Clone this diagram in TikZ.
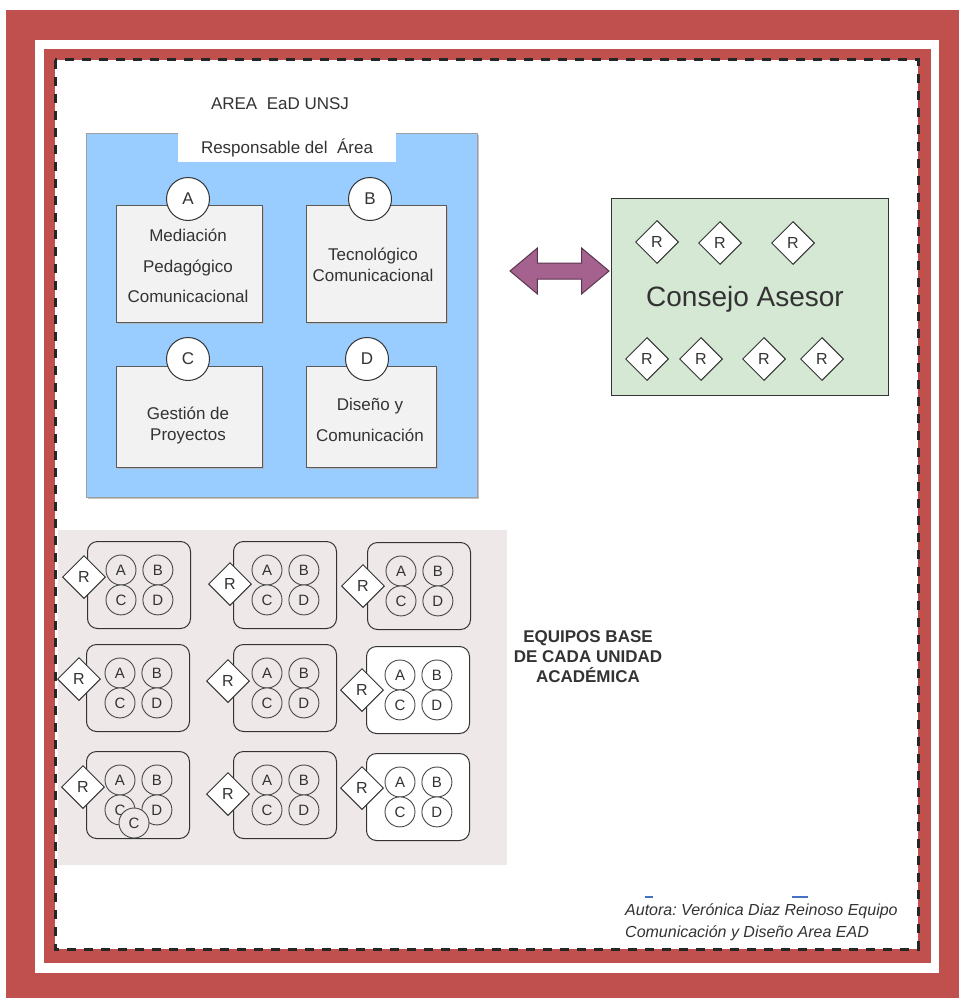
\documentclass[tikz,border=0pt]{standalone}
\usepackage{fontspec}
\setmainfont{Liberation Sans}
\usepackage{tikz}
\usetikzlibrary{positioning,calc,shapes.geometric,shapes.arrows,shadows}
\definecolor{marco}{HTML}{C0504D}
\definecolor{tinta}{HTML}{333333}
\definecolor{celeste}{HTML}{99CCFF}
\definecolor{grisclaro}{HTML}{F2F2F2}
\definecolor{verdeclaro}{HTML}{D5E8D4}
\definecolor{rosagris}{HTML}{EFE8E8}
\definecolor{malva}{HTML}{A5628F}
\definecolor{azulmarca}{HTML}{4472C4}
\frenchspacing
\tikzset{
  texto/.style  ={text=tinta,align=center,inner sep=0,font=\fontsize{17}{20}\selectfont},
  area/.style   ={draw=gray!75,fill=celeste,line width=0.8pt,inner sep=0,
                  drop shadow={shadow xshift=2pt,shadow yshift=-2pt,fill=gray!60,opacity=.8}},
  caja/.style   ={draw=gray!70!black,fill=grisclaro,line width=0.8pt,inner sep=0,
                  drop shadow={shadow xshift=2pt,shadow yshift=-2pt,fill=gray!60,opacity=.8}},
  letra/.style  ={circle,draw=tinta,fill=white,line width=1pt,minimum size=43,inner sep=0,
                  text=tinta,font=\fontsize{17}{20}\selectfont},
  consejo/.style={draw=tinta,fill=verdeclaro,line width=1pt,inner sep=0},
  rombo/.style  ={diamond,aspect=1,draw=tinta,fill=white,line width=1pt,minimum width=43,
                  minimum height=43,inner sep=0,text=tinta,font=\fontsize{16}{19}\selectfont},
  unidad/.style ={rounded corners=10pt,draw=tinta,line width=1pt,minimum width=103,
                  minimum height=87,inner sep=0},
  miembro/.style={circle,draw=tinta!90,line width=0.9pt,minimum size=30,inner sep=0,
                  text=tinta,font=\fontsize{15}{18}\selectfont},
  flecha/.style ={double arrow,double arrow head extend=15pt,double arrow tip angle=80,
                  inner xsep=0pt,inner ysep=7.5pt,minimum height=99,fill=malva,
                  draw=malva!55!black,line width=1pt},
  borde/.style  ={draw=black!85,line width=3pt,dash pattern=on 9pt off 8pt}
}
% one base team: box, the four letters and its R on the left edge
\newcommand{\equipo}[4]{%
  \node[unidad,fill=#4,anchor=north west] (#1) at (#2) {};
  \node[miembro,fill=#4] (#1a) at ($(#1.north west)+(34,29)$) {A};
  \node[miembro,fill=#4,right=6pt of #1a] (#1b) {B};
  \node[miembro,fill=#4,below=-1pt of #1a] (#1c) {C};
  \node[miembro,fill=#4,right=6pt of #1c] (#1d) {D};
  \node[rombo] (#1r) at (#3) {R};
}

\begin{document}
\begin{tikzpicture}[x=1pt,y=-1pt]
  \useasboundingbox (0,0) rectangle (959,998);
  % frames
  \fill[marco] (6,10) rectangle (959,998);
  \fill[white] (35,40) rectangle (939,973);
  \fill[marco] (44,49) rectangle (931,963);
  \fill[white] (55,60) rectangle (918,949);
  \draw[borde] (55,60) rectangle (918,949);

  % area EaD
  \node[texto] (titulo) at (280,104) {AREA~ EaD UNSJ};
  \node[area,minimum width=391,minimum height=364] (area) at (281.5,315) {};
  \node[texto,fill=white,minimum width=218,minimum height=29] (resp) at (287,147.5) {Responsable del~ Área};
  \node[caja,minimum width=146,minimum height=117] (cajaA) at (189,263.5) {};
  \node[caja,minimum width=140,minimum height=117] (cajaB) at (376,263.5) {};
  \node[caja,minimum width=146,minimum height=101] (cajaC) at (189,416.5) {};
  \node[caja,minimum width=130,minimum height=101] (cajaD) at (371,416.5) {};
  \node[texto,font=\fontsize{17}{30.5}\selectfont] (tA) at (188,266) {Mediación\\Pedagógico\\Comunicacional};
  \node[texto,font=\fontsize{17}{21}\selectfont] (tB) at (373,265) {Tecnológico\\Comunicacional};
  \node[texto,font=\fontsize{17}{21}\selectfont] (tC) at (188,425) {Gestión de\\Proyectos};
  \node[texto,font=\fontsize{17}{31}\selectfont] (tD) at (370,420) {Diseño y\\Comunicación};
  \node[letra] (lA) at (188,199) {A};
  \node[letra] (lB) at (370,199) {B};
  \node[letra] (lC) at (188,359) {C};
  \node[letra] (lD) at (367,359) {D};

  % consejo asesor
  \node[consejo,minimum width=277,minimum height=197] (consejo) at (749.5,296.5) {};
  \node[texto,font=\fontsize{28}{32}\selectfont] (nombre) at (745,299) {Consejo Asesor};
  \node[rombo] (c1) at (657,242) {R};
  \node[rombo] (c2) at (720,243) {R};
  \node[rombo] (c3) at (793,243) {R};
  \node[rombo] (c4) at (647,359) {R};
  \node[rombo] (c5) at (701,359) {R};
  \node[rombo] (c6) at (764,359) {R};
  \node[rombo] (c7) at (822,359) {R};
  \node[flecha] (enlace) at (559.5,271) {};

  % equipos base
  \node[fill=rosagris,minimum width=449,minimum height=335,inner sep=0] (equipos) at (282.5,697.5) {};
  \equipo{e1}{87,541}{84,577}{rosagris}
  \equipo{e2}{233,541}{230,584}{rosagris}
  \equipo{e3}{367,542}{363,586}{rosagris}
  \equipo{e4}{86,644}{79,679}{rosagris}
  \equipo{e5}{233,644}{228,681}{rosagris}
  \equipo{e6}{366,646}{362,690}{white}
  \equipo{e7}{86,751}{83,787}{rosagris}
  \equipo{e8}{233,751}{228,794}{rosagris}
  \equipo{e9}{366,753}{362,788}{white}
  \node[miembro,fill=rosagris] (e7x) at (134,823) {C};
  \node[texto,font=\bfseries\fontsize{17}{20}\selectfont] (rotulo) at (588,657)
    {EQUIPOS BASE\\DE CADA UNIDAD\\ACADÉMICA};

  % author
  \draw[azulmarca,line width=1.5pt] (645,897) -- (653,897);
  \draw[azulmarca,line width=1.5pt] (792,897) -- (808,897);
  \node[texto,anchor=west,align=left,font=\itshape\fontsize{16}{22}\selectfont] (autora) at (625,922)
    {Autora: Verónica Diaz Reinoso Equipo\\Comunicación y Diseño Area EAD};
\end{tikzpicture}
\end{document}
